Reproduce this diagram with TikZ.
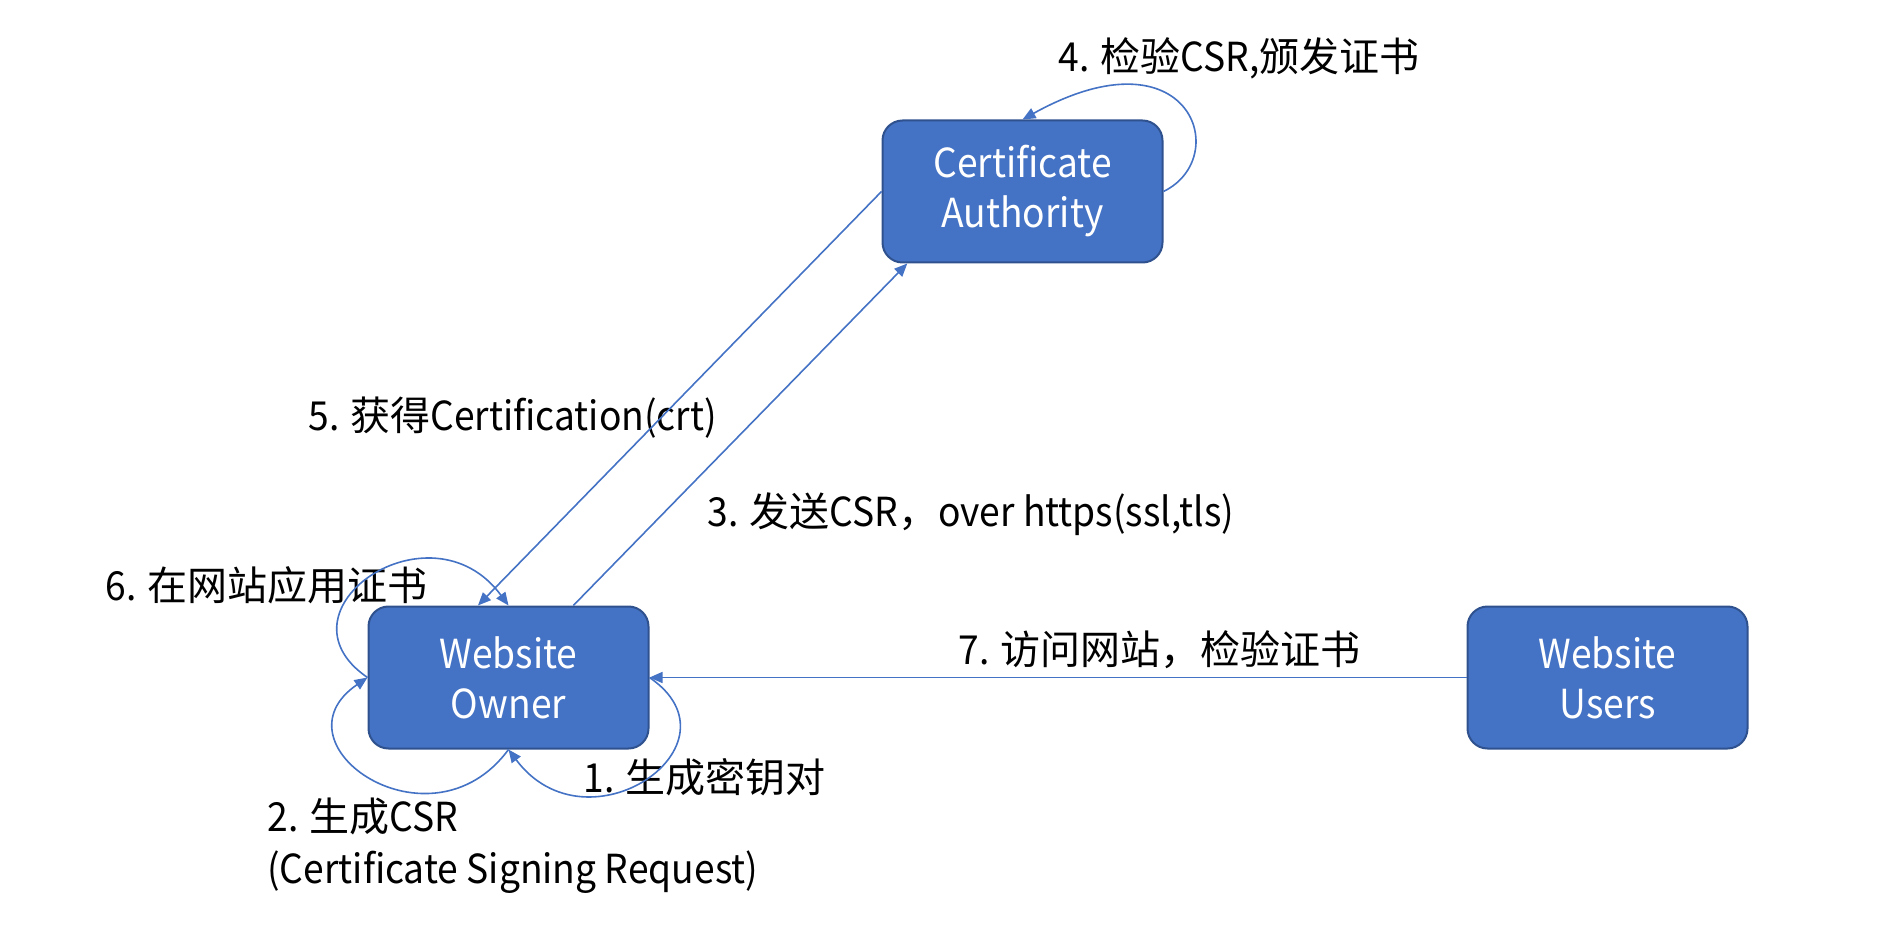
\documentclass[tikz,border=0pt]{standalone}
\usepackage{fontspec}
\setmainfont{Noto Sans CJK SC}
\newfontfamily\narrowfont[FakeStretch=0.93]{Noto Sans CJK SC}
\newcommand{\enpart}[1]{{\narrowfont #1}}
\usetikzlibrary{positioning,arrows.meta}
\definecolor{boxblue}{HTML}{4472C4}
\definecolor{boxedge}{HTML}{2F528F}
\begin{document}
\begin{tikzpicture}[x=0.5pt, y=-0.5pt, align=center,
	party/.style = {draw=boxedge, line width=1pt, fill=boxblue, rounded corners=10pt, text=white, minimum width=140pt, minimum height=71pt, font=\fontsize{20}{25}\narrowfont},
	lbl/.style = {anchor=west, inner sep=0pt, align=left, font=\fontsize{20}{26}\selectfont},
	link/.style = {draw=boxblue, line width=0.8pt, -{Triangle[length=6.5pt, width=5.5pt]}}]
	\useasboundingbox (0,0) rectangle (1878,940);
	\node[party] (owner) at (508.5,677.5) {Website\\Owner};
	\node[party] (users) [right=408.5pt of owner] {Website\\Users};
	\node[party] (ca) [above right=171pt and 116pt of owner] {Certificate\\Authority};
	\node[lbl] (step4) at (1058,58) {\enpart{4. }检验\enpart{CSR,}颁发证书};
	\node[lbl] (step5) at (308,418) {\enpart{5. }获得\enpart{Certification(crt)}};
	\node[lbl] (step3) at (707,514) {\enpart{3. }发送\enpart{CSR}，\enpart{over https(ssl,tls)}};
	\node[lbl] (step6) at (105,585) {\enpart{6. }在网站应用证书};
	\node[lbl] (step7) at (958,650) {\enpart{7. }访问网站，检验证书};
	\node[lbl] (step1) at (583,777) {\enpart{1. }生成密钥对};
	\node[lbl] (step2) at (267,846) {\enpart{2. }生成\enpart{CSR}\\\enpart{(Certificate Signing Request)}};
	\draw[link] (ca.west) -- (owner.113);
	\draw[link] (owner.48) -- (ca.212);
	\draw[link] (users.west) -- (owner.east);
	\draw[link] (ca.east) .. controls +(70,-34) and +(168,-93) .. (ca.north);
	\draw[link] (owner.east) .. controls +(98,67) and +(79,106) .. (owner.south);
	\draw[link] (owner.south) .. controls +(-78,106) and +(-98,67) .. (owner.west);
	\draw[link] (owner.west) .. controls +(-98,-67) and +(-78,-106) .. (owner.north);
\end{tikzpicture}
\end{document}
